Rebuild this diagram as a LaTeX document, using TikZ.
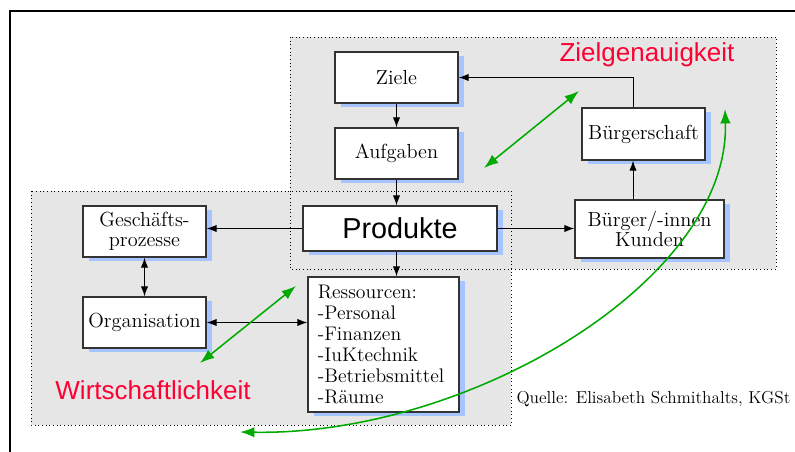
\documentclass[tikz,border=0pt]{standalone}
\usepackage{fontspec}
\newfontfamily\arialfont{Liberation Sans}
\usetikzlibrary{arrows.meta}
\usetikzlibrary{shadows}
\usetikzlibrary{calc}

\definecolor{feld}{RGB}{230,230,230}
\definecolor{schatten}{RGB}{166,196,255}
\definecolor{zielrot}{RGB}{255,0,51}
\definecolor{pfeilgruen}{RGB}{0,170,0}

\tikzset{
  kasten/.style={draw=black!80, line width=0.8pt, fill=white, align=center, inner sep=0pt,
    font=\fontsize{14.5}{14.5}\selectfont,
    drop shadow={shadow xshift=0.16cm, shadow yshift=-0.1cm, fill=schatten, opacity=1}},
  rand/.style={dotted, line width=0.6pt},
  gruen/.style={{Latex[length=0.36cm,width=0.26cm]}-{Latex[length=0.36cm,width=0.26cm]}, pfeilgruen, line width=1.1pt},
  titel/.style={text=zielrot, font=\arialfont\fontsize{18.5}{20}\selectfont},
}

\begin{document}
\begin{tikzpicture}[x=0.025cm, y=-0.025cm, >={Latex[length=0.25cm,width=0.18cm]}, line width=0.7pt]
        \useasboundingbox (0,0) rectangle (795,452);

        % Rahmen
        \draw[line width=1.4pt] (10,460) -- (10,11) -- (800,11);

        % die beiden Bereiche
        \fill[feld] (290,37) rectangle (776,269);
        \fill[feld] (31,191) rectangle (511,425);
        \draw[rand] (290,37) rectangle (776,269);
        \draw[rand] (31,191) rectangle (511,425);

        \node[kasten, minimum width=3.075cm, minimum height=1.275cm] (ziele) at (396.5,77.5) {Ziele};
        \node[kasten, minimum width=3.075cm, minimum height=1.275cm] (aufgaben) at (396.5,153.5) {Aufgaben};
        \node[kasten, minimum width=4.85cm, minimum height=1.125cm, font=\arialfont\fontsize{20.5}{22}\selectfont] (produkte) at (400,228.5) {Produkte};
        \node[kasten, minimum width=3.075cm, minimum height=1.3cm] (buergerschaft) at (643.5,134) {Bürgerschaft};
        \node[kasten, minimum width=3.725cm, minimum height=1.45cm] (kunden) at (649.5,229) {Bürger/-innen\\Kunden};
        \node[kasten, minimum width=3.075cm, minimum height=1.275cm] (prozesse) at (144.5,231.5) {Geschäfts-\\prozesse};
        \node[kasten, minimum width=3.075cm, minimum height=1.275cm] (organisation) at (144.5,322.5) {Organisation};
        \node[kasten, text width=3.275cm, minimum height=3.375cm, inner xsep=0.25cm, align=left,
          font=\fontsize{14}{15}\selectfont] (ressourcen) at (383.5,344.5)
          {Ressourcen:\\-Personal\\-Finanzen\\-IuKtechnik\\-Betriebsmittel\\-Räume};

        \node[titel] (zielgenau) at (647,55) {Zielgenauigkeit};
        \node[titel] (wirtschaft) at (153,390) {Wirtschaftlichkeit};
        \node[font=\fontsize{12.3}{14}\selectfont, anchor=west, inner sep=0pt] (quelle) at (516,399) {Quelle: Elisabeth Schmithalts, KGSt};

        \path[->] (ziele) edge (aufgaben);
        \path[->] (aufgaben.south) edge (aufgaben.south |- produkte.north);
        \path[->] (produkte.south -| aufgaben) edge (aufgaben |- ressourcen.north);
        \path[->] (produkte.west) edge (produkte.west -| prozesse.east);
        \path[->] (produkte.east) edge (produkte.east -| kunden.west);
        \path[<->] (prozesse) edge (organisation);
        \path[<->] (organisation.east) edge (organisation.east -| ressourcen.west);
        \path[->] (kunden.north -| 633,0) edge (buergerschaft.south -| 633,0);
        \draw[->] (buergerschaft.north -| 633,0) |- (ziele.east);

        % Wechselwirkungen
        \coordinate (z1) at (484,168);
        \coordinate (z2) at (579,91);
        \coordinate (w1) at (200,363);
        \coordinate (w2) at (296,286);
        \coordinate (c1) at (240,432);
        \coordinate (c2) at (725,109);
        \draw[gruen] (z1) -- (z2);
        \draw[gruen] (w1) -- (w2);
        \draw[gruen] (c1) .. controls (470,436) and (730,280) .. (c2);
      \end{tikzpicture}
\end{document}
